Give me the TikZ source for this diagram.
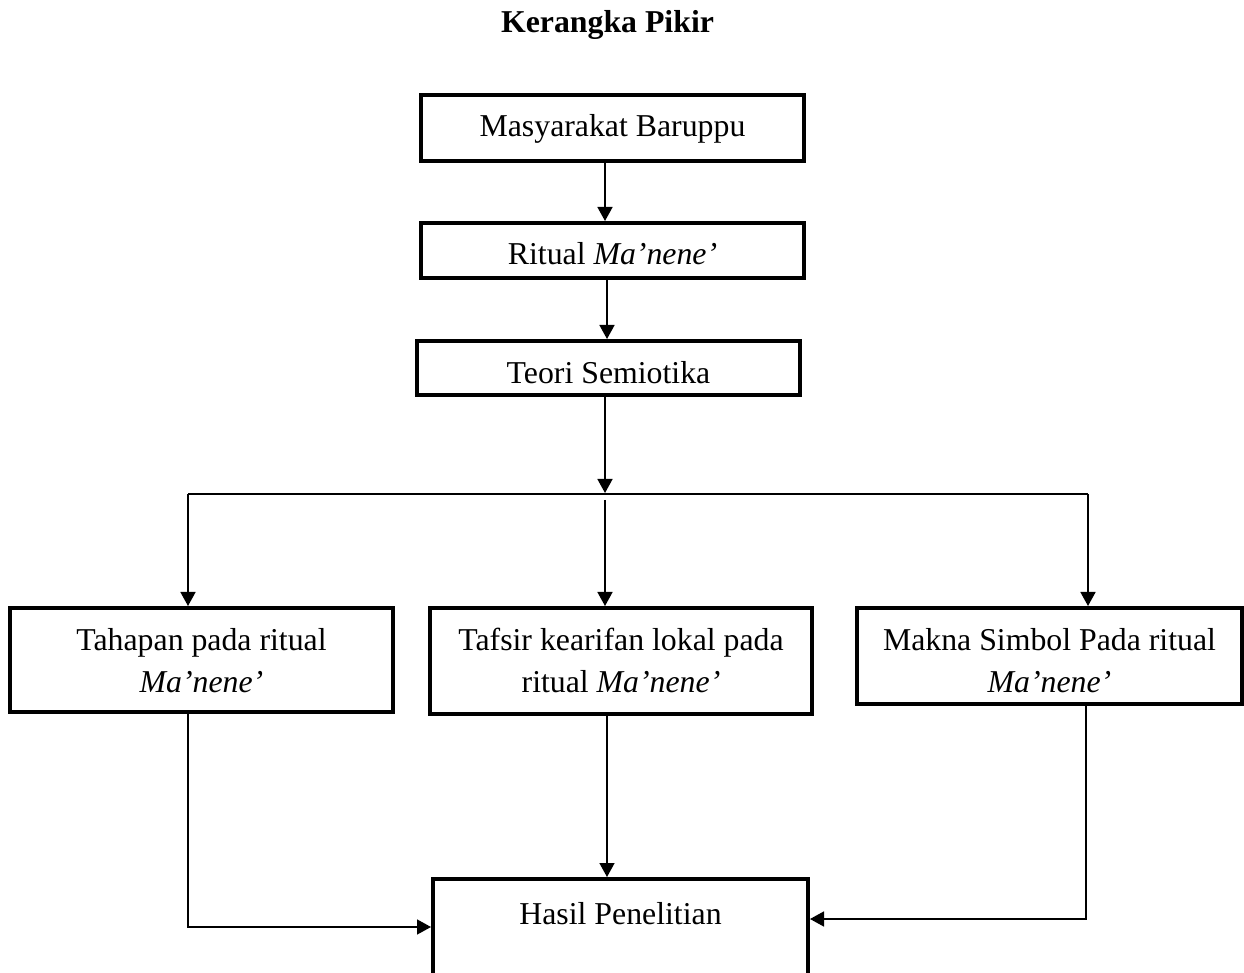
\documentclass[tikz,border=0pt]{standalone}
\usepackage{fontspec}
\setmainfont{Liberation Serif}
\usetikzlibrary{arrows.meta}
\newcommand{\twolines}[2]{\begin{tabular}[t]{@{}c@{}}#1\\#2\end{tabular}}
\begin{document}
\begin{tikzpicture}[x=0.5pt,y=-0.5pt,
  box/.style={draw,line width=2pt,inner sep=0pt,anchor=north,font=\fontsize{15.9}{21}\selectfont},
  arr/.style={line width=0.8pt,-{Triangle[length=7pt,width=7.5pt]}},
  ln/.style={line width=0.8pt}]
\useasboundingbox (0,0) rectangle (1244,973);
\clip (0,0) rectangle (1244,973);
\node[font=\fontsize{15.9}{21}\selectfont\bfseries,anchor=base] (title) at (607.5,33) {Kerangka Pikir};
\node[box,minimum width=191.5pt,text height=21pt,text depth=12pt] (m1) at (612.5,93) {Masyarakat Baruppu};
\node[box,minimum width=191.5pt,text height=21pt,text depth=6.5pt] (m2) at (612.5,221) {Ritual \textit{Ma’nene’}};
\node[box,minimum width=191.5pt,text height=21.5pt,text depth=5.5pt] (m3) at (608.5,339) {Teori Semiotika};
\node[box,minimum width=191.5pt,text height=21pt,text depth=31pt] (tah) at (201.5,606) {\twolines{Tahapan pada ritual}{\textit{Ma’nene’}}};
\node[box,minimum width=191pt,text height=21pt,text depth=32pt] (taf) at (621,606) {\twolines{Tafsir kearifan lokal pada}{ritual \textit{Ma’nene’}}};
\node[box,minimum width=192.5pt,text height=21pt,text depth=27pt] (mak) at (1049.5,606) {\twolines{Makna Simbol Pada ritual}{\textit{Ma’nene’}}};
\node[box,minimum width=187.5pt,text height=22.5pt,text depth=45pt] (hasil) at (620.5,877) {Hasil Penelitian};
\coordinate (a1) at (605,0);
\coordinate (a2) at (607,0);
\coordinate (jn) at (605,494);
\coordinate (jl) at (188,494);
\coordinate (jr) at (1088,494);
\coordinate (js) at (605,500);
\coordinate (lb) at (188,927);
\coordinate (rb) at (1086,919);
\coordinate (mx) at (607,0);
\draw[arr] (m1.south -| a1) -- (m2.north -| a1);
\draw[arr] (m2.south -| a2) -- (m3.north -| a2);
\draw[arr] (m3.south -| jn) -- ([yshift=0.5pt]jn);
\draw[ln] (jl) -- (jr);
\draw[arr] (jl) -- (tah.north -| jl);
\draw[arr] (js) -- (taf.north -| js);
\draw[arr] (jr) -- (mak.north -| jr);
\draw[arr] (taf.south -| mx) -- (hasil.north -| mx);
\draw[arr] (tah.south -| lb) |- (hasil.west |- lb);
\draw[arr] (mak.south -| rb) |- (hasil.east |- rb);
\end{tikzpicture}
\end{document}
